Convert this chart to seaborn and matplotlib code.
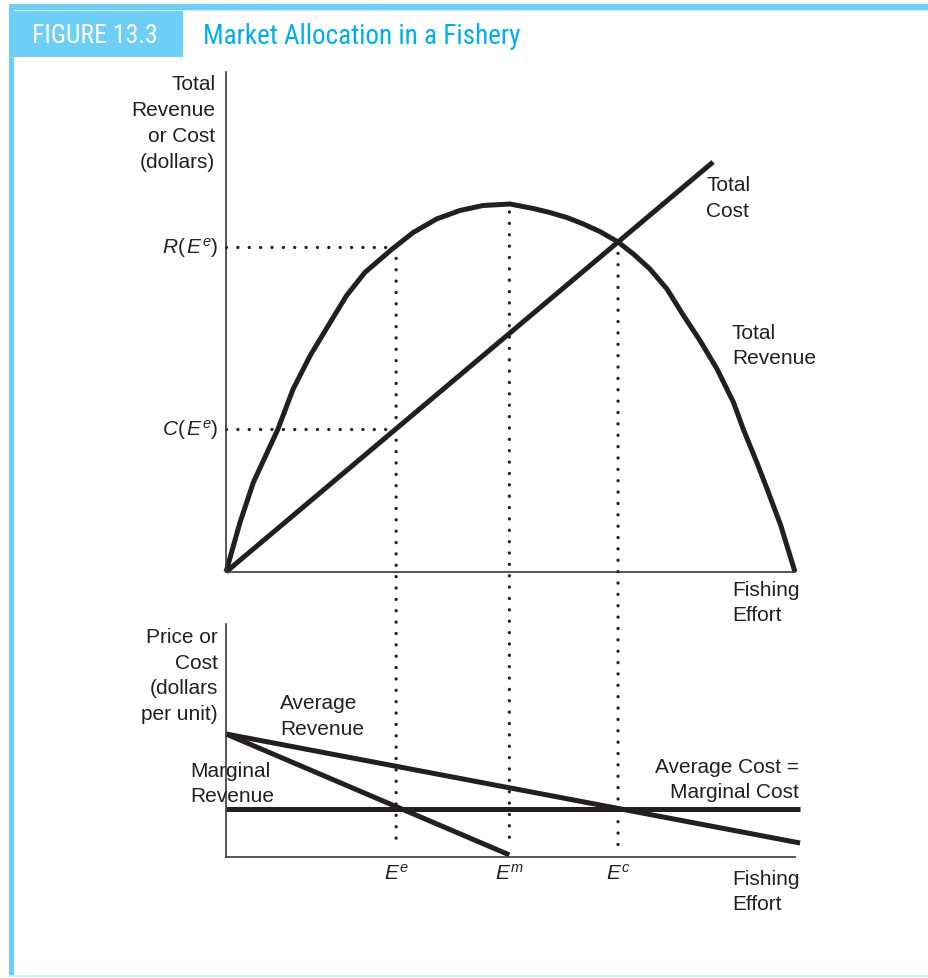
import os
import numpy as np
import pandas as pd
import matplotlib
matplotlib.use("Agg")
import matplotlib.pyplot as plt
from matplotlib.patches import Rectangle, ConnectionPatch
from matplotlib import font_manager as fm
import seaborn as sns

# ---------------- data ----------------
revenue_effort = [0, 2.46, 4.8, 9.1, 11.8, 14.8, 18.3, 21.2, 24.4, 29.1, 32.9, 37.0,
                  41.1, 45.2, 49.9, 54.0, 56.9, 59.9, 62.8, 65.7, 68.9, 71.6, 74.5,
                  77.5, 80.4, 83.3, 86.3, 89.2, 90.9, 93.3, 95.1, 97.5, 100]
total_revenue = [0, 9.9, 17.9, 28.5, 36.6, 43.3, 49.9, 55.3, 59.9, 64.5, 67.9, 70.6,
                 72.3, 73.3, 73.6, 72.7, 71.9, 70.9, 69.6, 68.1, 66.0, 63.6, 60.6,
                 56.6, 51.3, 46.3, 40.6, 33.9, 28.6, 21.9, 16.6, 9.3, 0]
cost_effort = [0, 85.6]
total_cost = [0, 82]

ar_effort = [0, 100.9]
average_revenue = [52.8, 6.0]
mr_effort = [0, 49.8]
marginal_revenue = [52.8, 0.9]
ac_effort = [0, 100.9]
average_cost = [20.6, 20.6]

effort_points = [29.9, 49.8, 68.9]                 # E^e, E^m, E^c
effort_labels = [r"$E^{e}$", r"$E^{m}$", r"$E^{c}$"]
top_dot_start = [65, 72, 66]                       # where the dotted guides start (top panel)
bottom_dot_end = [4.5, 5, 1.5]                     # where they end (bottom panel)
r_ee = 65
c_ee = 28.7

# ---------------- style ----------------
sns.set_theme(style="white")
plt.rcParams["font.family"] = ["Liberation Sans", "DejaVu Sans"]
plt.rcParams["mathtext.fontset"] = "custom"
plt.rcParams["mathtext.rm"] = "Liberation Sans"
plt.rcParams["mathtext.it"] = "Liberation Sans:italic"

INK = "#231f20"
AXC = "#3a3a3a"
BLUE_BAR = "#6dcff6"
BLUE_TXT = "#00aeef"
LW = 3.6
FS = 15


def pick_condensed():
    preferred = ("Liberation Sans Narrow", "Roboto Condensed", "Open Sans Condensed",
                 "Noto Sans Condensed", "DejaVu Sans Condensed")
    for name in preferred:
        for f in fm.fontManager.ttflist:
            if f.name == name and f.style == "normal" and f.weight in (400, "normal", "regular"):
                return fm.FontProperties(fname=f.fname)
    for f in fm.fontManager.ttflist:
        base = os.path.basename(f.fname)
        if ("Condensed" in base or "Narrow" in base) and not any(
                k in base for k in ("Bold", "Oblique", "Italic", "Mono", "Serif", "Light",
                                    "Black", "Medium", "Thin", "Semi", "Extra")):
            return fm.FontProperties(fname=f.fname)
    return fm.FontProperties(family="Roboto")


W, H = 929, 979
fig = plt.figure(figsize=(W / 100, H / 100), dpi=100)


def fx(px):
    return px / W


def fy(py):
    return 1 - py / H


# ---------------- frame / header ----------------
fig.patches.append(Rectangle((fx(9), fy(10.5)), 1 - fx(9), 5.5 / H, transform=fig.transFigure,
                             color=BLUE_BAR, lw=0, zorder=0))
fig.patches.append(Rectangle((fx(15), fy(12)), 1 - fx(15), 1.5 / H, transform=fig.transFigure,
                             color="#c8eefc", lw=0, zorder=0))
fig.patches.append(Rectangle((fx(9), fy(976)), 5.5 / W, 971 / H, transform=fig.transFigure,
                             color=BLUE_BAR, lw=0, zorder=0))
fig.patches.append(Rectangle((fx(9), fy(978)), 1 - fx(9), 2 / H, transform=fig.transFigure,
                             color="#c8eefc", lw=0, zorder=0))
fig.patches.append(Rectangle((fx(14), fy(58)), (183 - 14) / W, 46 / H, transform=fig.transFigure,
                             color=BLUE_BAR, lw=0, zorder=0))

cond = pick_condensed()
t_fig = fig.text(fx(95), fy(36), "FIGURE 13.3", color="white", fontproperties=cond.copy(),
                 fontsize=20, ha="center", va="center")
t_title = fig.text(fx(203), fy(36), "Market Allocation in a Fishery", color=BLUE_TXT,
                   fontproperties=cond.copy(), fontsize=20, ha="left", va="center")
fig.canvas.draw()
for t, target in ((t_fig, 126), (t_title, 316)):
    wpx = t.get_window_extent().width
    if wpx > 0:
        t.set_fontsize(min(24, 20 * target / wpx))

# ---------------- axes ----------------
ax_top = fig.add_axes([fx(226), fy(573), 569 / W, 500 / H])
ax_bot = fig.add_axes([fx(226), fy(858), 569 / W, 233 / H])
for ax in (ax_top, ax_bot):
    ax.set_xlim(0, 100)
    ax.set_ylim(0, 100)
    ax.set_facecolor("none")
    sns.despine(ax=ax)
    for s in ("left", "bottom"):
        ax.spines[s].set_color(AXC)
        ax.spines[s].set_linewidth(1.2)
    ax.set_xticks([])
    ax.set_yticks([])

dot_style = dict(color=INK, lw=2.4, linestyle=(0, (0.01, 3.4)), dash_capstyle="round")

# top panel curves
sns.lineplot(x=revenue_effort, y=total_revenue, ax=ax_top, color=INK, lw=LW, sort=False,
             estimator=None, clip_on=False, solid_capstyle="butt", solid_joinstyle="round")
sns.lineplot(x=cost_effort, y=total_cost, ax=ax_top, color=INK, lw=LW, sort=False,
             estimator=None, clip_on=False, solid_capstyle="butt")
ax_top.plot([0, effort_points[0]], [r_ee, r_ee], clip_on=False, **dot_style)
ax_top.plot([0, effort_points[0]], [c_ee, c_ee], clip_on=False, **dot_style)

# bottom panel lines
sns.lineplot(x=ar_effort, y=average_revenue, ax=ax_bot, color=INK, lw=LW, sort=False,
             estimator=None, clip_on=False, solid_capstyle="butt")
sns.lineplot(x=mr_effort, y=marginal_revenue, ax=ax_bot, color=INK, lw=LW, sort=False,
             estimator=None, clip_on=False, solid_capstyle="butt")
sns.lineplot(x=ac_effort, y=average_cost, ax=ax_bot, color=INK, lw=LW, sort=False,
             estimator=None, clip_on=False, solid_capstyle="butt")
for ax in (ax_top, ax_bot):
    ax.set_xlabel("")
    ax.set_ylabel("")

# vertical dotted guides spanning both panels
for e, y0, y1 in zip(effort_points, top_dot_start, bottom_dot_end):
    cp = ConnectionPatch(xyA=(e, y0), coordsA=ax_top.transData,
                         xyB=(e, y1), coordsB=ax_bot.transData,
                         color=INK, lw=2.4, linestyle=(0, (0.01, 3.4)))
    cp.set_capstyle("round")
    fig.add_artist(cp)

# ---------------- texts ----------------
tk = dict(color=INK, fontsize=FS, linespacing=1.45)
ax_top.text(-1.9, 89.9, "Total\nRevenue\nor Cost\n(dollars)", ha="right", va="center",
            multialignment="right", **tk)
ax_top.text(-1.4, r_ee, r"$R(\,E^{e})$", ha="right", va="center", color=INK, fontsize=FS)
ax_top.text(-1.4, c_ee, r"$C(\,E^{e})$", ha="right", va="center", color=INK, fontsize=FS)
ax_top.text(84.4, 74.9, "Total\nCost", ha="left", va="center", **tk)
ax_top.text(88.9, 45.4, "Total\nRevenue", ha="left", va="center", **tk)
ax_top.text(88.9, -6.0, "Fishing\nEffort", ha="left", va="center", **tk)

ax_bot.text(-1.4, 78.1, "Price or\nCost\n(dollars\nper unit)", ha="right", va="center",
            multialignment="right", **tk)
ax_bot.text(9.5, 60.7, "Average\nRevenue", ha="left", va="center", **tk)
ax_bot.text(-6.3, 31.8, "Marginal\nRevenue", ha="left", va="center", **tk)
ax_bot.text(100.7, 33.5, "Average Cost =\nMarginal Cost", ha="right", va="center",
            multialignment="right", **tk)
for e, lab in zip(effort_points, effort_labels):
    ax_bot.text(e, -6.6, lab, ha="center", va="center", color=INK, fontsize=FS)
ax_bot.text(88.9, -14.6, "Fishing\nEffort", ha="left", va="center", **tk)

fig.savefig("out.png", dpi=100, facecolor="white")
